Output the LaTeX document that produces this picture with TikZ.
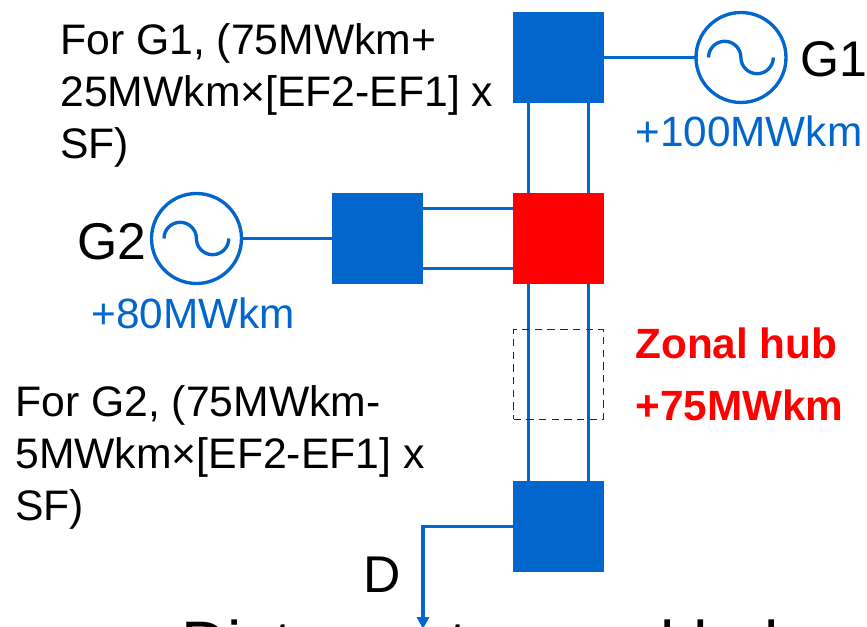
\documentclass[tikz,border=0pt]{standalone}
\usepackage{fontspec}
\setmainfont{Liberation Sans}
\usetikzlibrary{calc,arrows.meta}
\definecolor{busblue}{RGB}{2,102,204}
\tikzset{
  busbar/.style={draw=none,fill=busblue,minimum size=0.5669*91pt,inner sep=0pt,outer sep=0pt},
  hubbar/.style={busbar,fill=red},
  zonebox/.style={draw=black!85,line width=0.8pt,dash pattern=on 4.2pt off 3pt,minimum size=0.5669*90pt,inner sep=0pt,outer sep=0pt},
  gen/.style={circle,draw=busblue,line width=1.9pt,minimum size=0.5669*90pt,inner sep=0pt,outer sep=0pt},
  line/.style={busblue,line width=2.2pt},
  note/.style={align=left,anchor=north west,inner sep=0pt,font=\fontsize{24.2}{29.5}\selectfont},
  blue label/.style={text=busblue,inner sep=0pt,font=\fontsize{24}{29}\selectfont},
  red label/.style={text=red,inner sep=0pt,anchor=west,font=\fontsize{24}{29}\selectfont\bfseries},
  name label/.style={inner sep=0pt,font=\fontsize{29.3}{34}\selectfont}
}
\newcommand{\sinewave}[1]{
  \draw[line,line width=1.9pt] ($(#1)+(-32.5pt*0.5669,0)$) arc[start angle=180,end angle=0,radius=0.5669*16.2pt]
    arc[start angle=180,end angle=360,radius=0.5669*16.2pt];
}
\begin{document}
\begin{tikzpicture}[x=0.5669pt,y=-0.5669pt]
  \useasboundingbox (0,0) rectangle (867,627);
  \clip (0,0) rectangle (867,627);
  % buses
  \node[busbar] (busA) at (558.5,58) {};
  \node[hubbar] (hub) at (558.5,238.5) {};
  \node[busbar] (busB) at (377.5,238.5) {};
  \node[busbar] (busD) at (558.5,526.5) {};
  % generators
  \node[gen] (genA) at (741,57.5) {};
  \node[gen] (genB) at (196.5,238.5) {};
  \sinewave{genA}
  \sinewave{genB}
  % lines
  \draw[line] ([xshift=-17pt]busA.south) -- ([xshift=-17pt]hub.north);
  \draw[line] ([xshift=17pt]busA.south) -- ([xshift=17pt]hub.north);
  \draw[line] ([xshift=-17pt]hub.south) -- ([xshift=-17pt]busD.north);
  \draw[line] ([xshift=17pt]hub.south) -- ([xshift=17pt]busD.north);
  \draw[line] ([yshift=17pt]busB.east) -- ([yshift=17pt]hub.west);
  \draw[line] ([yshift=-17pt]busB.east) -- ([yshift=-17pt]hub.west);
  \draw[line] (busA.east |- genA.west) -- (genA.west);
  \draw[line] (genB) -- (busB);
  \coordinate (load) at (423,629);
  \draw[line,-{Triangle[length=6.8pt,width=6.8pt]}] (busD.west) -- (load |- busD.west) -- (load);
  \node[zonebox] (zone) at (558.5,374.5) {};
  % labels
  \node[note] (noteA) at (60,23) {For G1, (75MWkm+\\25MWkm×[EF2-EF1] x\\SF)};
  \node[note] (noteB) at (15,385) {For G2, (75MWkm-\\5MWkm×[EF2-EF1] x\\SF)};
  \node[name label,anchor=west,font=\fontsize{28.4}{34}\selectfont] (nameA) at (800,59) {G1};
  \node[name label,anchor=east] (nameB) at (147,242) {G2};
  \node[blue label,anchor=west] (costA) at (635,131) {+100MWkm};
  \node[blue label,anchor=west] (costB) at (91,313) {+80MWkm};
  \node[red label] (hubname) at (635,343) {Zonal hub};
  \node[red label] (hubcost) at (635,405) {+75MWkm};
  \node[name label,anchor=center] (nameD) at (382,575) {D};
  \node[inner sep=0pt,anchor=base west,font=\fontsize{36.5}{44}\selectfont] (axis) at (181,666) {Distance to zonal hub};
\end{tikzpicture}
\end{document}
